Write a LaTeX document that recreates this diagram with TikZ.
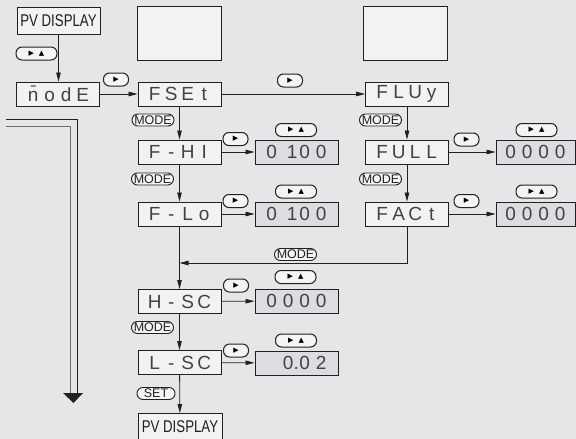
\documentclass[tikz,border=0pt]{standalone}
\usepackage{fontspec}
\usepackage{graphicx}
\setmainfont{Liberation Sans}
\newfontfamily\ledfont{Liberation Sans}
\newfontfamily\symfont{DejaVu Sans}
\usetikzlibrary{arrows.meta}

\definecolor{bg}{HTML}{E5E6E8}
\definecolor{boxfill}{HTML}{F1F2F4}
\definecolor{valfill}{HTML}{DCDDE0}
\definecolor{ink}{HTML}{231F20}
\definecolor{keyfill}{HTML}{F4F4F5}

\newcommand\ledcell[1]{\makebox[16.5pt]{#1}}
\newcommand\ledtxt[4]{{\ledfont\fontsize{19}{19}\selectfont\ledcell{#1}\ledcell{#2}\ledcell{#3}\ledcell{#4}}}
\newcommand\ledone{\makebox[16.5pt][r]{1\kern-1pt}}
\newcommand\pvtxt{{\fontsize{17}{17}\selectfont\scalebox{0.78}[1]{PV DISPLAY}}}
\newcommand\tri{\symfont ▶}
\newcommand\triup{\symfont ▲}

\tikzset{
  ledbox/.style={draw=ink, line width=0.9pt, fill=boxfill, minimum width=83pt,
    minimum height=24pt, inner sep=0pt, text=ink!85},
  valbox/.style={ledbox, fill=valfill},
  blankbox/.style={draw=ink, line width=1pt, fill=boxfill, minimum width=84pt,
    minimum height=54pt, inner sep=0pt},
  pvbox/.style={draw=ink, line width=0.9pt, fill=boxfill, minimum width=83pt,
    minimum height=27pt, inner sep=0pt, text=ink},
  btn/.style={draw=ink, line width=1pt, fill=keyfill, rounded corners=6pt,
    minimum width=25pt, minimum height=13pt, inner sep=0pt,
    font=\fontsize{7}{7}\selectfont},
  btnw/.style={btn, minimum width=41pt},
  keylbl/.style={draw=ink, line width=0.9pt, fill=keyfill, rounded corners=6pt,
    minimum height=12pt, minimum width=42pt, inner sep=1.5pt, text=ink,
    font=\fontsize{12.5}{12.5}\selectfont},
  setlbl/.style={keylbl, minimum width=38pt},
  arr/.style={draw=ink, line width=0.8pt, -{Triangle[length=9pt,width=4.5pt]}}
}

\begin{document}
\begin{tikzpicture}[x=1pt,y=-1pt]
\useasboundingbox (0,0) rectangle (576,439);
\clip (0,0) rectangle (576,439);
\fill[bg] (0,0) rectangle (576,439);

% top
\node[pvbox] (pv1) at (58.5,20.5) {\pvtxt};
\node[blankbox] (blank1) at (179,33) {};
\node[blankbox] (blank2) at (405,33) {};
\node[btnw] (k0) at (36.5,53.5) {\tri\hspace{5pt}\triup};
\node[ledbox] (mode) at (58,94) {\ledtxt{\=n}{o}{d}{E}};
\node[btn] (k1) at (116,79.5) {\tri};

% left column
\node[ledbox] (fset) at (179.5,94) {\ledtxt{F}{S}{E}{t}};
\node[keylbl] (m1) at (153,120) {MODE};
\node[ledbox] (fhi) at (179.5,152) {\ledtxt{F}{-}{H}{I}};
\node[btn] (k2) at (235.5,139) {\tri};
\node[valbox] (v1) at (296.5,152) {\ledtxt{0}{\ledone}{0}{0}};
\node[btnw] (k3) at (296,130) {\tri\hspace{5pt}\triup};
\node[keylbl] (m2) at (152.5,179) {MODE};
\node[ledbox] (flo) at (179.5,214) {\ledtxt{F}{-}{L}{o}};
\node[btn] (k4) at (235.5,201) {\tri};
\node[valbox] (v2) at (296.5,214) {\ledtxt{0}{\ledone}{0}{0}};
\node[btnw] (k5) at (296,191.5) {\tri\hspace{5pt}\triup};

% right column
\node[btn] (k6) at (290,80.5) {\tri};
\node[ledbox] (fluy) at (407,94) {\ledtxt{F}{L}{U}{y}};
\node[keylbl] (m3) at (380.5,120) {MODE};
\node[ledbox] (full) at (407,152) {\ledtxt{F}{U}{L}{L}};
\node[btn] (k7) at (466.5,139.5) {\tri};
\node[valbox, minimum width=79pt] (v3) at (535.5,152) {\ledtxt{0}{0}{0}{0}};
\node[btnw] (k8) at (536.5,130) {\tri\hspace{5pt}\triup};
\node[keylbl] (m4) at (380.5,179) {MODE};
\node[ledbox] (fact) at (407,214) {\ledtxt{F}{A}{C}{t}};
\node[btn] (k9) at (466.5,201) {\tri};
\node[valbox, minimum width=79pt] (v4) at (535.5,214) {\ledtxt{0}{0}{0}{0}};
\node[btnw] (k10) at (536.5,191.5) {\tri\hspace{5pt}\triup};

% lower part
\node[keylbl] (m5) at (295.5,254.5) {MODE};
\node[ledbox] (hsc) at (179.5,301.5) {\ledtxt{H}{-}{S}{C}};
\node[btn] (k11) at (236,285.5) {\tri};
\node[valbox] (v5) at (296.5,301) {\ledtxt{0}{0}{0}{0}};
\node[btnw] (k12) at (295.5,277) {\tri\hspace{5pt}\triup};
\node[keylbl] (m6) at (152.5,327.5) {MODE};
\node[ledbox] (lsc) at (179.5,362.5) {\ledtxt{L}{-}{S}{C}};
\node[btn] (k13) at (236,350.5) {\tri};
\node[valbox] (v6) at (296.5,363) {\ledtxt{}{0\rlap{.}}{0}{2}};
\node[btnw] (k14) at (296,340.5) {\tri\hspace{5pt}\triup};
\node[setlbl] (s1) at (156,393.5) {SET};
\node[pvbox, minimum width=84pt] (pv2) at (180,427) {\pvtxt};

% connectors
\draw[arr] (pv1.south) -- (pv1.south |- mode.north);
\draw[arr] (mode) -- (fset);
\draw[arr] (fset) -- (fluy);
\draw[arr] (fset) -- (fhi);
\draw[arr] (fhi) -- (flo);
\draw[arr] (fhi) -- (v1);
\draw[arr] (flo) -- (v2);
\draw[arr] (fluy) -- (full);
\draw[arr] (full) -- (fact);
\draw[arr] (full) -- (v3);
\draw[arr] (fact) -- (v4);
\coordinate (jn) at (179.5,263);
\draw[arr] (fact.south) |- (jn);
\draw[arr] (flo) -- (hsc);
\draw[arr] (hsc) -- (v5);
\draw[arr] (hsc) -- (lsc);
\draw[arr] (lsc) -- (v6);
\draw[arr] (lsc) -- (pv2);

% double return line
\draw[ink!65, line width=1pt] (6,126) -- (70,126) -- (70,394);
\draw[ink, line width=1pt] (6,119) -- (77,119) -- (77,394);
\fill[ink] (63,393) -- (83,393) -- (73.5,403) -- cycle;
\end{tikzpicture}
\end{document}
